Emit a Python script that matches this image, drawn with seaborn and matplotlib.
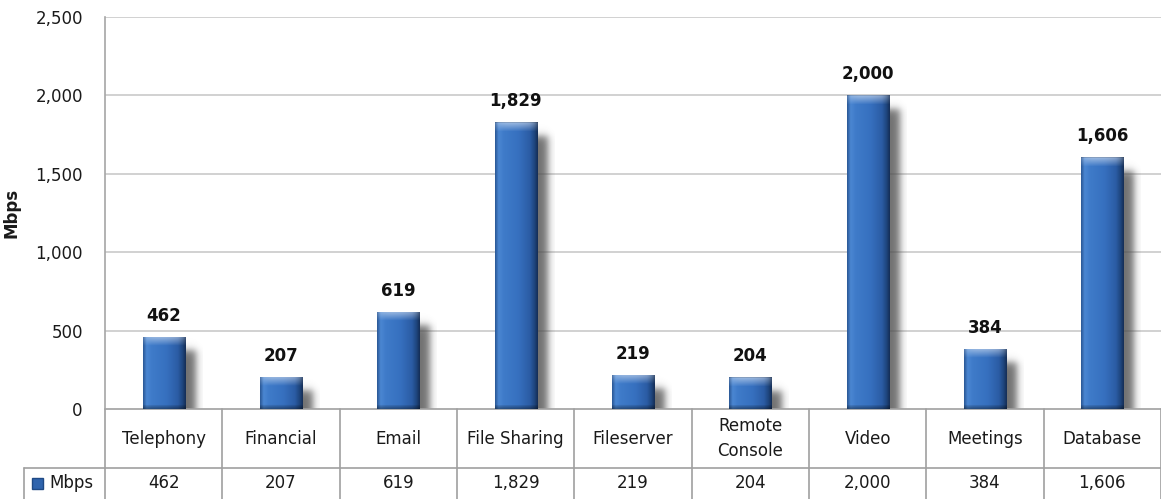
import numpy as np
import pandas as pd
import matplotlib
matplotlib.use("Agg")
import matplotlib.pyplot as plt
import matplotlib.transforms as mtransforms
from matplotlib.patches import Rectangle
from matplotlib.lines import Line2D
import matplotlib.colors as mcolors
import seaborn as sns

categories = ["Telephony", "Financial", "Email", "File Sharing", "Fileserver",
              "Remote\nConsole", "Video", "Meetings", "Database"]
values = [462, 207, 619, 1829, 219, 204, 2000, 384, 1606]
value_labels = ["462", "207", "619", "1,829", "219", "204", "2,000", "384", "1,606"]
series_name = "Mbps"
yticks = [0, 500, 1000, 1500, 2000, 2500]
ytick_labels = ["0", "500", "1,000", "1,500", "2,000", "2,500"]

sns.set_theme(style="white")
plt.rcParams["font.family"] = ["DejaVu Sans"]

W, H = 1161, 499
fig = plt.figure(figsize=(W / 100, H / 100), dpi=100)
ax_left, ax_right, ax_top, ax_bottom = 105, 1161, 17, 409
axw, axh = ax_right - ax_left, ax_bottom - ax_top
ax = fig.add_axes([ax_left / W, (H - ax_bottom) / H, axw / W, axh / H])

df = pd.DataFrame({"cat": categories, "val": values})
sns.barplot(data=df, x="cat", y="val", ax=ax, width=0.36, color="#3670c0",
            edgecolor="none", zorder=3)

ncat = len(categories)
ax.set_xlim(-0.5, ncat - 0.5)
ax.set_ylim(0, 2500)
ax.set_yticks(yticks)
ax.set_yticklabels(ytick_labels, fontsize=12, color="#1a1a1a")
ax.tick_params(axis="y", length=0, pad=16)
ax.set_xticks([])
ax.set_xlabel("")
ax.set_ylabel("Mbps", fontsize=12, fontweight="bold", color="#1a1a1a")
ax.yaxis.set_label_coords((20 - ax_left) / axw, 0.5)
for g in yticks[1:]:
    ax.axhline(g, color="#c9c9c9", lw=1.2, zorder=1)
for s in ["top", "right", "bottom"]:
    ax.spines[s].set_visible(False)
ax.spines["left"].set_color("#a6a6a6")
ax.spines["left"].set_linewidth(1.2)

px_y = axh / 2500.0          # pixels per data unit (y)
px_x = axw / float(ncat)     # pixels per category (x)

def hexrgb(c):
    return np.array(mcolors.to_rgb(c))

stops_t = [0.0, 0.08, 0.2, 0.55, 0.82, 0.92, 1.0]
stops_c = [hexrgb(c) for c in ["#2c5a98", "#4a86d2", "#3f7bc9", "#3670bf", "#2b5ca4", "#1f4780", "#152f58"]]

bars = list(ax.patches)
for p, lab in zip(bars, value_labels):
    x0, y0 = p.get_x(), p.get_y()
    w, h = p.get_width(), p.get_height()
    # --- blurred drop shadow as an image ---
    wpx, hpx = int(round(w * px_x)), int(round(h * px_y))
    dx, dy, blur, m = 11, 14, 5.0, 18
    gw, gh = wpx + 2 * m, hpx + 2 * m
    xs = np.arange(gw) - m - dx
    ys = np.arange(gh) - m - dy
    def soft(u, L):
        a = 1 / (1 + np.exp(-(u + 0.5) / (blur / 2.2)))
        b = 1 / (1 + np.exp(-(L - u - 0.5) / (blur / 2.2)))
        return a * b
    mask = soft(ys, hpx)[:, None] * soft(xs, wpx)[None, :]
    sh = np.zeros((gh, gw, 4))
    sh[..., :3] = 0.3
    sh[..., 3] = 0.8 * mask
    sx0 = x0 - m / px_x
    sy_top = y0 + h + m / px_y
    ax.imshow(sh, extent=[sx0, sx0 + gw / px_x, sy_top - gh / px_y, sy_top], aspect="auto",
              origin="upper", zorder=2, interpolation="bilinear")
    # --- gradient fill of the bar ---
    hp = max(hpx, 4)
    nx = 60
    t = np.linspace(0, 1, nx)
    row = np.stack([np.interp(t, stops_t, [c[k] for c in stops_c]) for k in range(3)], axis=1)
    img = np.repeat(row[None, :, :], hp, axis=0)
    bev = min(9, hp // 3)
    for i in range(bev):
        f = 0.5 * (1 - i / bev)
        arch = 1 - 0.6 * (np.abs(t - 0.5) * 2) ** 4
        img[i] = img[i] + (1 - img[i]) * (f * arch)[:, None]
    img[0] = img[0] * 0.85
    nb = min(4, hp // 4)
    for i in range(nb):
        img[hp - 1 - i] = img[hp - 1 - i] * (0.65 + 0.08 * i)
    im = ax.imshow(np.clip(img, 0, 1), extent=[x0, x0 + w, y0, y0 + h], aspect="auto",
                   origin="upper", zorder=4, interpolation="bilinear")
    im.set_clip_path(p)
    ax.text(x0 + w / 2, y0 + h, lab, ha="center", va="bottom", fontsize=12,
            fontweight="bold", color="#111111",
            transform=ax.transData + mtransforms.ScaledTranslation(0, 12 / 100, fig.dpi_scale_trans),
            zorder=6)

ax.set_xlim(-0.5, ncat - 0.5)
ax.set_ylim(0, 2500)

# data table under the axis
row1 = -(468 - ax_bottom) / axh
row2 = -(499 - ax_bottom) / axh
legx = (24 - ax_left) / axw
trans = mtransforms.blended_transform_factory(ax.transData, ax.transAxes)
lc = "#a0a0a0"
ax.add_line(Line2D([0, 1], [0, 0], transform=ax.transAxes, color=lc, lw=1.2, clip_on=False))
ax.add_line(Line2D([legx, 1], [row1, row1], transform=ax.transAxes, color=lc, lw=1.2, clip_on=False))
ax.add_line(Line2D([legx, legx], [row1, row2], transform=ax.transAxes, color=lc, lw=1.2, clip_on=False))
for i in range(ncat + 1):
    ax.add_line(Line2D([i - 0.5, i - 0.5], [0, row2], transform=trans, color=lc, lw=1.2, clip_on=False))
for i, (c, lab) in enumerate(zip(categories, value_labels)):
    ax.text(i, row1 / 2, c, transform=trans, ha="center", va="center", fontsize=12,
            color="#1a1a1a", linespacing=1.5)
    ax.text(i, (row1 + row2) / 2, lab, transform=trans, ha="center", va="center", fontsize=12,
            color="#1a1a1a")
# legend key in table
ax.add_patch(Rectangle(((32 - ax_left) / axw, (row1 + row2) / 2 - 5 / axh),
                       11 / axw, 11 / axh, transform=ax.transAxes,
                       facecolor="#2f64ad", edgecolor="#1f4a85", clip_on=False))
ax.text((49 - ax_left) / axw, (row1 + row2) / 2, series_name, transform=ax.transAxes,
        ha="left", va="center", fontsize=12, color="#1a1a1a")

fig.savefig("out.png", dpi=100)
